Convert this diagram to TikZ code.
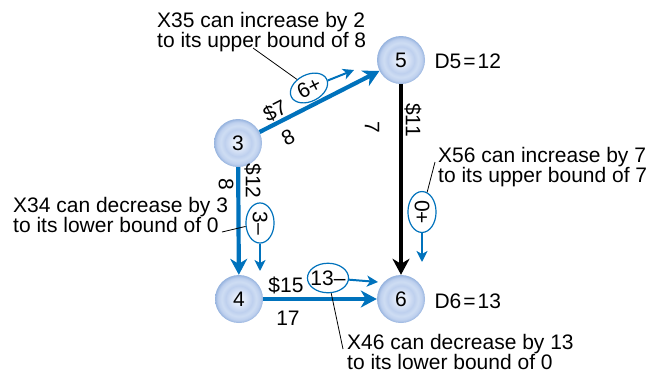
\documentclass[tikz,border=0pt]{standalone}
\usepackage{fontspec}
\setmainfont{Liberation Sans}
\usetikzlibrary{arrows.meta,shapes.geometric}
\definecolor{flowblue}{RGB}{0,114,188}
\definecolor{ballin}{RGB}{246,249,254}
\definecolor{ballmid}{RGB}{220,230,247}
\definecolor{ballring}{RGB}{190,208,238}
\definecolor{ballband}{RGB}{206,221,243}
\definecolor{ballrim}{RGB}{150,179,222}
\pgfdeclareradialshading{ballshade}{\pgfpoint{0bp}{0bp}}{color(0bp)=(ballin);color(7bp)=(ballmid);color(14bp)=(ballring);color(18bp)=(ballband);color(22bp)=(ballring);color(25bp)=(ballrim);color(50bp)=(ballrim)}

\begin{document}
\begin{tikzpicture}[x=1pt,y=-1pt,
  font=\fontsize{21}{18.5}\selectfont,
  ball/.style={circle,minimum size=48pt,inner sep=0pt,shade,shading=ballshade},
  flow/.style={line width=4.2pt,flowblue,-{Stealth[length=16pt,width=17pt,inset=5pt]}},
  flowzero/.style={line width=4.2pt,black,-{Stealth[length=16pt,width=17pt,inset=5pt]}},
  chg/.style={ellipse,draw=flowblue,line width=1.2pt,inner sep=2pt},
  chgarrow/.style={line width=2pt,flowblue,-{Stealth[length=11pt,width=11pt,inset=3pt]}},
  lbl/.style={inner sep=0pt},
  note/.style={anchor=north west,align=left,inner sep=0pt},
  leader/.style={line width=0.8pt,black}]
  \useasboundingbox (0,0) rectangle (649,373);
  % nodes of the network
  \node[ball] (n3) at (238,143) {3};
  \node[ball] (n5) at (401,60) {5};
  \node[ball] (n4) at (239,299) {4};
  \node[ball] (n6) at (401,299) {6};
  \node[anchor=west] (d5) at (431,61) {D5\kern2pt=\kern2pt12};
  \node[anchor=west] (d6) at (431,301) {D6\kern2pt=\kern2pt13};
  % arcs
  \draw[flow] (n3) -- (n5);
  \draw[flow] (n3) -- (n4);
  \draw[flow] (n4) -- (n6);
  \draw[flowzero] (n5) -- (n6);
  % costs and bounds
  \node[lbl,rotate=27] (c35) at (275,111) {\$7};
  \node[lbl,rotate=27] (u35) at (288,137) {8};
  \node[lbl,rotate=-90] (c34) at (253,181) {\$12};
  \node[lbl,rotate=-90] (u34) at (226,184) {8};
  \node[lbl,rotate=-90] (c56) at (413,120) {\$11};
  \node[lbl,rotate=-90] (u56) at (372,127) {7};
  \node[lbl] (c46) at (286,285) {\$15};
  \node[lbl] (u46) at (288,318) {17};
  % changes of the flows
  \node[chg,rotate=27] (s35) at (309,88) {6+};
  \node[chg,rotate=-90,inner sep=2.5pt] (s34) at (260,223) {3--};
  \node[chg,rotate=-90,inner sep=2.5pt] (s56) at (422,212) {0+};
  \node[chg,inner xsep=-3pt,inner ysep=3pt] (s46) at (328,278) {13--};
  \coordinate (e35) at (354,70);
  \coordinate (e34) at (260,271);
  \coordinate (e56) at (422,262);
  \coordinate (e46) at (378,282);
  \draw[chgarrow] (s35) -- (e35);
  \draw[chgarrow] (s34) -- (e34);
  \draw[chgarrow] (s56) -- (e56);
  \draw[chgarrow] (s46) -- (e46);
  % notes
  \node[note] (t35) at (157,12) {X35 can increase by 2\\to its upper bound of 8};
  \node[note] (t34) at (13,197) {X34 can decrease by 3\\to its lower bound of 0};
  \node[note] (t56) at (438,147) {X56 can increase by 7\\to its upper bound of 7};
  \node[note] (t46) at (347,334) {X46 can decrease by 13\\to its lower bound of 0};
  \coordinate (k35) at (253,48);
  \coordinate (k34) at (222,232);
  \coordinate (k56) at (435,162);
  \coordinate (k46) at (343,349);
  \draw[leader] (s35) -- (k35);
  \draw[leader] (s34) -- (k34);
  \draw[leader] (s56) -- (k56);
  \draw[leader] (s46) -- (k46);
\end{tikzpicture}
\end{document}
